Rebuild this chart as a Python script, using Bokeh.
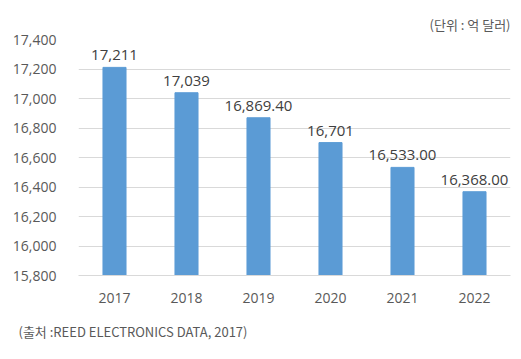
from bokeh.plotting import figure
from bokeh.models import ColumnDataSource, Title, NumeralTickFormatter, FixedTicker
from bokeh.core.properties import value
from bokeh.embed import file_html
from bokeh.resources import INLINE

years = ["2017", "2018", "2019", "2020", "2021", "2022"]
values = [17211, 17039, 16869.40, 16701, 16533.00, 16368.00]
value_labels = ["17,211", "17,039", "16,869.40", "16,701", "16,533.00", "16,368.00"]
y_ticks = [15800, 16000, 16200, 16400, 16600, 16800, 17000, 17200, 17400]
unit_text = "(단위 : 억 달러)"
source_text = "(출처 :REED ELECTRONICS  DATA, 2017)"

src = ColumnDataSource(dict(x=years, top=values, label=value_labels))

p = figure(x_range=years, y_range=(15800, 17400), width=521, height=359,
           output_backend="svg", toolbar_location=None,
           min_border_left=78, min_border_right=11, min_border_top=39, min_border_bottom=84)
p.outline_line_color = None
p.background_fill_color = "white"
p.border_fill_color = "white"

p.vbar(x="x", top="top", bottom=15800, width=0.32, source=src, color="#5B9BD5")
p.text(x="x", y="top", text="label", source=src, text_align="center", text_baseline="bottom",
       y_offset=-7, text_font=value("Open Sans"), text_font_size="15px", text_color="#404040")

p.yaxis.ticker = FixedTicker(ticks=y_ticks)
p.yaxis.formatter = NumeralTickFormatter(format="0,0")
p.yaxis.axis_line_color = None
p.yaxis.major_tick_line_color = None
p.yaxis.minor_tick_line_color = None
p.yaxis.major_label_text_font = "Open Sans"
p.yaxis.major_label_text_font_size = "14px"
p.yaxis.major_label_text_color = "#595959"
p.yaxis.major_label_standoff = 16

p.xaxis.axis_line_color = "#D9D9D9"
p.xaxis.axis_line_width = 1
p.xaxis.major_tick_line_color = None
p.xaxis.minor_tick_line_color = None
p.xaxis.major_label_text_font = "Open Sans"
p.xaxis.major_label_text_font_size = "14px"
p.xaxis.major_label_text_color = "#595959"
p.xaxis.major_label_standoff = 11

p.xgrid.grid_line_color = None
p.ygrid.grid_line_color = "#D9D9D9"
p.ygrid.grid_line_width = 1

p.add_layout(Title(text=unit_text, align="right", text_font="Noto Sans CJK KR",
                   text_font_size="13px", text_font_style="normal", text_color="#595959",
                   standoff=12), "above")
p.add_layout(Title(text=source_text, align="left", offset=-60, text_font="Noto Sans CJK KR",
                   text_font_size="13px", text_font_style="normal", text_color="#595959",
                   standoff=28), "below")

open("out.html", "w").write(file_html(p, INLINE))
